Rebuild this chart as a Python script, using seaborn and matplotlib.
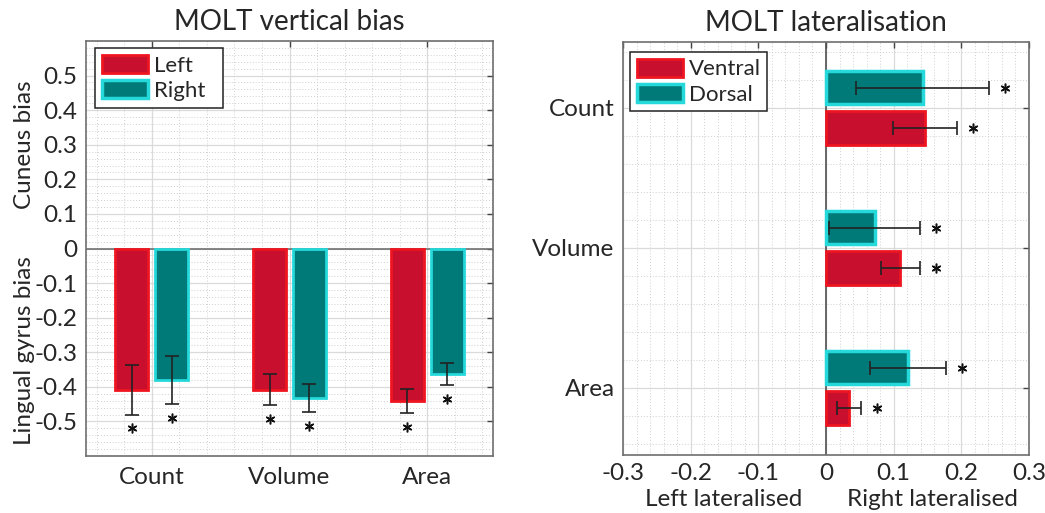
import numpy as np
import pandas as pd
import matplotlib
matplotlib.use("Agg")
import matplotlib.pyplot as plt
from matplotlib.patches import Patch
from matplotlib.ticker import MultipleLocator
import matplotlib.transforms as mtransforms
import seaborn as sns

# ---------------- data ----------------
metrics = ["Count", "Volume", "Area"]

# left panel: vertical bias
vb_left = [-0.408, -0.408, -0.441]
vb_left_err = [0.072, 0.044, 0.036]
vb_right = [-0.381, -0.432, -0.362]
vb_right_err = [0.070, 0.040, 0.032]

# right panel: lateralisation
lat_ventral = [0.146, 0.110, 0.034]
lat_ventral_err = [0.047, 0.029, 0.018]
lat_dorsal = [0.143, 0.072, 0.121]
lat_dorsal_err = [0.098, 0.067, 0.056]

vb_yticks = [-0.5, -0.4, -0.3, -0.2, -0.1, 0, 0.1, 0.2, 0.3, 0.4, 0.5]
vb_yticklabels = ["-0.5", "-0.4", "-0.3", "-0.2", "-0.1", "0", "0.1", "0.2", "0.3", "0.4", "0.5"]
lat_xticks = [-0.3, -0.2, -0.1, 0, 0.1, 0.2, 0.3]
lat_xticklabels = ["-0.3", "-0.2", "-0.1", "0", "0.1", "0.2", "0.3"]

# ---------------- style ----------------
sns.set_style("white")
plt.rcParams["font.family"] = ["Lato", "DejaVu Sans"]

RED_FILL, RED_EDGE = "#C8102E", "#EE1520"
TEAL_FILL, TEAL_EDGE = "#007A78", "#25D8DA"
SPINE = "#6e6e6e"
TICK_FS = 17.5

fig = plt.figure(figsize=(10.45, 5.13), dpi=100)
axL = fig.add_axes([86 / 1045, 1 - 456 / 513, 407 / 1045, 415 / 513])
axR = fig.add_axes([623 / 1045, 1 - 455 / 513, 406 / 1045, 413 / 513])


def style_axes(ax):
    for s in ax.spines.values():
        s.set_visible(True)
        s.set_color(SPINE)
        s.set_linewidth(1.2)
    ax.set_axisbelow(True)
    ax.grid(which="major", color="#dadada", lw=0.9, ls="-")
    ax.grid(which="minor", color="#cfcfcf", lw=0.7, ls=(0, (1, 2)))
    ax.tick_params(which="major", direction="in", length=4, width=1, color="#444444",
                   top=True, right=True, labelsize=TICK_FS, pad=6)
    ax.tick_params(which="minor", length=0)


# ---------------- left panel ----------------
dfL = pd.DataFrame({
    "metric": metrics * 2,
    "side": ["Left"] * 3 + ["Right"] * 3,
    "value": vb_left + vb_right,
})
sns.barplot(data=dfL, x="metric", y="value", hue="side", hue_order=["Left", "Right"],
            palette=[RED_FILL, TEAL_FILL], saturation=1, width=0.58, gap=0.17,
            errorbar=None, legend=False, ax=axL, zorder=3)
edgesL = [RED_EDGE, TEAL_EDGE]
errsL = [vb_left_err, vb_right_err]
valsL = [vb_left, vb_right]
for ci, cont in enumerate(list(axL.containers)):
    xs = []
    for p in cont.patches:
        p.set_edgecolor(edgesL[ci])
        p.set_linewidth(2.0)
        xs.append(p.get_x() + p.get_width() / 2)
    xs = np.array(xs)
    v = np.array(valsL[ci]); e = np.array(errsL[ci])
    axL.errorbar(xs, v, yerr=e, fmt="none", ecolor="#222222", elinewidth=1.2,
                 capsize=5, capthick=1.2, zorder=4)
    axL.plot(xs, v - e - 0.04, ls="none", marker=(6, 2, 0), ms=7, mew=1.1,
             color="#111111", zorder=5)

axL.axhline(0, color="#707070", lw=1.2, zorder=2)
axL.set_xlim(-0.478, 2.478)
axL.set_ylim(-0.6, 0.6)
axL.set_yticks(vb_yticks)
axL.set_yticklabels(vb_yticklabels)
axL.xaxis.set_minor_locator(MultipleLocator(0.2))
axL.yaxis.set_minor_locator(MultipleLocator(0.02))
style_axes(axL)
axL.set_xlabel("")
axL.set_ylabel("")
axL.tick_params(axis="x", pad=8)
axL.set_title("MOLT vertical bias", fontsize=20, pad=8)

trL = mtransforms.blended_transform_factory(axL.transAxes, axL.transData)
axL.text(-0.152, 0.3, "Cuneus bias", rotation=90, transform=trL, fontsize=17.5,
         ha="center", va="center")
axL.text(-0.152, -0.295, "Lingual gyrus bias", rotation=90, transform=trL, fontsize=17.5,
         ha="center", va="center")

legL = axL.legend(handles=[Patch(facecolor=RED_FILL, edgecolor=RED_EDGE, lw=2, label="Left    "),
                           Patch(facecolor=TEAL_FILL, edgecolor=TEAL_EDGE, lw=2.5, label="Right  ")],
                  loc="upper left", bbox_to_anchor=(0.022, 0.983), borderaxespad=0,
                  fontsize=16, fancybox=False, framealpha=1, edgecolor="#222222",
                  handlelength=2.1, handleheight=0.9, handletextpad=0.25,
                  labelspacing=0.2, borderpad=0.3)
legL.get_frame().set_linewidth(1.1)

# ---------------- right panel ----------------
dfR = pd.DataFrame({
    "metric": metrics * 2,
    "group": ["Dorsal"] * 3 + ["Ventral"] * 3,
    "value": lat_dorsal + lat_ventral,
})
sns.barplot(data=dfR, y="metric", x="value", hue="group", hue_order=["Dorsal", "Ventral"],
            palette=[TEAL_FILL, RED_FILL], saturation=1, orient="h", width=0.58, gap=0.17,
            errorbar=None, legend=False, ax=axR, zorder=3)
edgesR = [TEAL_EDGE, RED_EDGE]
lwR = [2.5, 2.0]
valsR = [lat_dorsal, lat_ventral]
errsR = [lat_dorsal_err, lat_ventral_err]
for ci, cont in enumerate(list(axR.containers)):
    ys = []
    for p in cont.patches:
        p.set_edgecolor(edgesR[ci])
        p.set_linewidth(lwR[ci])
        ys.append(p.get_y() + p.get_height() / 2)
    ys = np.array(ys)
    v = np.array(valsR[ci]); e = np.array(errsR[ci])
    axR.errorbar(v, ys, xerr=e, fmt="none", ecolor="#222222", elinewidth=1.2,
                 capsize=5, capthick=1.2, zorder=4)
    axR.plot(v + e + 0.024, ys, ls="none", marker=(6, 2, 0), ms=7, mew=1.1,
             color="#111111", zorder=5)

axR.axvline(0, color="#505050", lw=1.2, zorder=2)
axR.set_xlim(-0.3, 0.3)
axR.set_ylim(2.48, -0.47)
axR.set_xticks(lat_xticks)
axR.set_xticklabels(lat_xticklabels)
axR.xaxis.set_minor_locator(MultipleLocator(0.02))
axR.yaxis.set_minor_locator(MultipleLocator(0.2))
style_axes(axR)
axR.set_xlabel("")
axR.set_ylabel("")
axR.tick_params(axis="y", pad=6)
axR.set_title("MOLT lateralisation", fontsize=20, pad=8)

trR = mtransforms.blended_transform_factory(axR.transData, axR.transAxes)
axR.text(-0.151, -0.107, "Left lateralised", transform=trR, fontsize=17.5,
         ha="center", va="center")
axR.text(0.157, -0.107, "Right lateralised", transform=trR, fontsize=17.5,
         ha="center", va="center")

legR = axR.legend(handles=[Patch(facecolor=RED_FILL, edgecolor=RED_EDGE, lw=2, label="Ventral"),
                           Patch(facecolor=TEAL_FILL, edgecolor=TEAL_EDGE, lw=2.5, label="Dorsal")],
                  loc="upper left", bbox_to_anchor=(0.017, 0.976), borderaxespad=0,
                  fontsize=16, fancybox=False, framealpha=1, edgecolor="#222222",
                  handlelength=2.1, handleheight=0.9, handletextpad=0.25,
                  labelspacing=0.2, borderpad=0.3)
legR.get_frame().set_linewidth(1.1)

fig.savefig("out.png", dpi=100)
